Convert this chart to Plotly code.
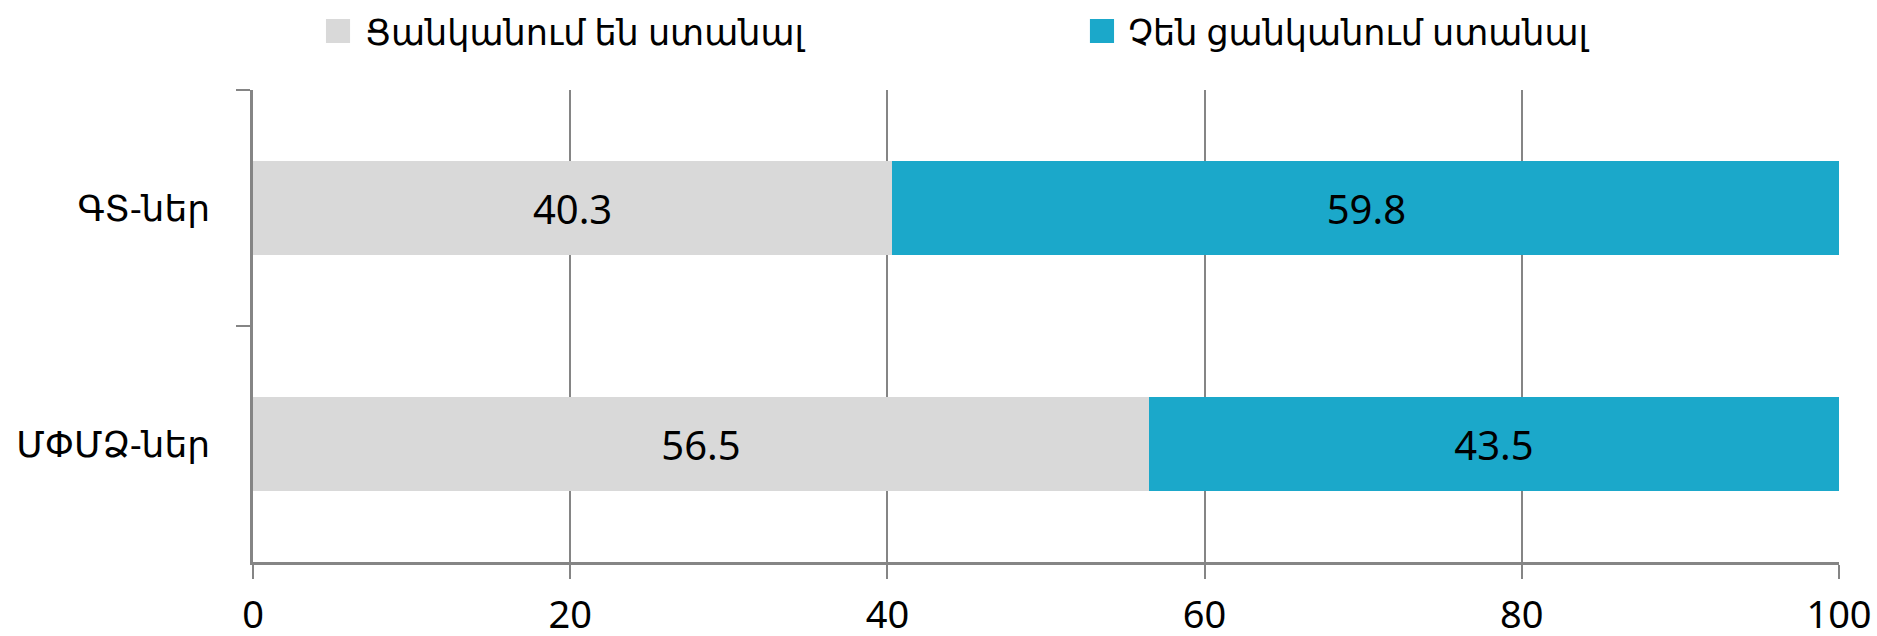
import plotly.graph_objects as go

categories = ["ԳՏ-ներ", "ՄՓՄՁ-ներ"]
want_values = [40.3, 56.5]
not_want_values = [59.8, 43.5]
series_names = ["Ցանկանում են ստանալ", "Չեն ցանկանում ստանալ"]
x_ticks = [0, 20, 40, 60, 80, 100]

GRAY = "#D9D9D9"
TEAL = "#1BA8CA"
FONT = "Noto Sans, DejaVu Sans, sans-serif"

fig = go.Figure()
for name, vals, col in [(series_names[0], want_values, GRAY), (series_names[1], not_want_values, TEAL)]:
    fig.add_trace(go.Bar(
        y=categories, x=vals, orientation="h", name=name,
        marker=dict(color=col, line=dict(width=0)),
        text=[f"{v:.1f}" for v in vals], textposition="inside",
        insidetextanchor="middle", textangle=0, constraintext="none",
        textfont=dict(size=40, color="black", family=FONT),
        showlegend=False, hoverinfo="skip",
    ))

# legend drawn as shapes + annotations (paper coordinates)
legend_items = [
    (series_names[0], GRAY, 0.0460, 0.0612, 0.0694),
    (series_names[1], TEAL, 0.5277, 0.5429, 0.5505),
]
for name, col, x0, x1, xt in legend_items:
    fig.add_shape(type="rect", xref="paper", yref="paper", x0=x0, x1=x1,
                  y0=1.0996, y1=1.1504, fillcolor=col, line=dict(width=0))
    fig.add_annotation(xref="paper", yref="paper", x=xt, y=1.1229, text=name,
                       showarrow=False, xanchor="left", yanchor="middle",
                       font=dict(size=35, family=FONT, color="black"))

fig.update_layout(
    width=1877, height=636,
    barmode="stack", bargap=0.6,
    plot_bgcolor="white", paper_bgcolor="white",
    margin=dict(l=253, r=38, t=90, b=74, autoexpand=False),
    font=dict(family=FONT, size=38, color="black"),
    showlegend=False,
)
fig.update_xaxes(
    range=[0, 100], tickvals=x_ticks, ticktext=[str(t) for t in x_ticks],
    showgrid=True, gridcolor="#858585", gridwidth=1.5,
    showline=True, linecolor="#858585", linewidth=3,
    ticks="outside", ticklen=14, tickcolor="#858585", tickwidth=1.5,
    ticklabelstandoff=3, zeroline=False, automargin=False,
    tickfont=dict(size=38, family=FONT),
)
fig.update_yaxes(
    categoryorder="array", categoryarray=categories, autorange="reversed",
    showline=True, linecolor="#858585", linewidth=2.5,
    ticks="outside", ticklen=14, tickcolor="#858585", tickwidth=2,
    tickson="boundaries", showgrid=False, ticklabelstandoff=33,
    automargin=False,
    tickfont=dict(size=36, family=FONT),
)
fig.write_html(
    "out.html",
    config={"displayModeBar": False},
    post_script="document.body.style.margin='0';document.body.style.padding='0';"
                "document.body.style.overflow='hidden';",
)
